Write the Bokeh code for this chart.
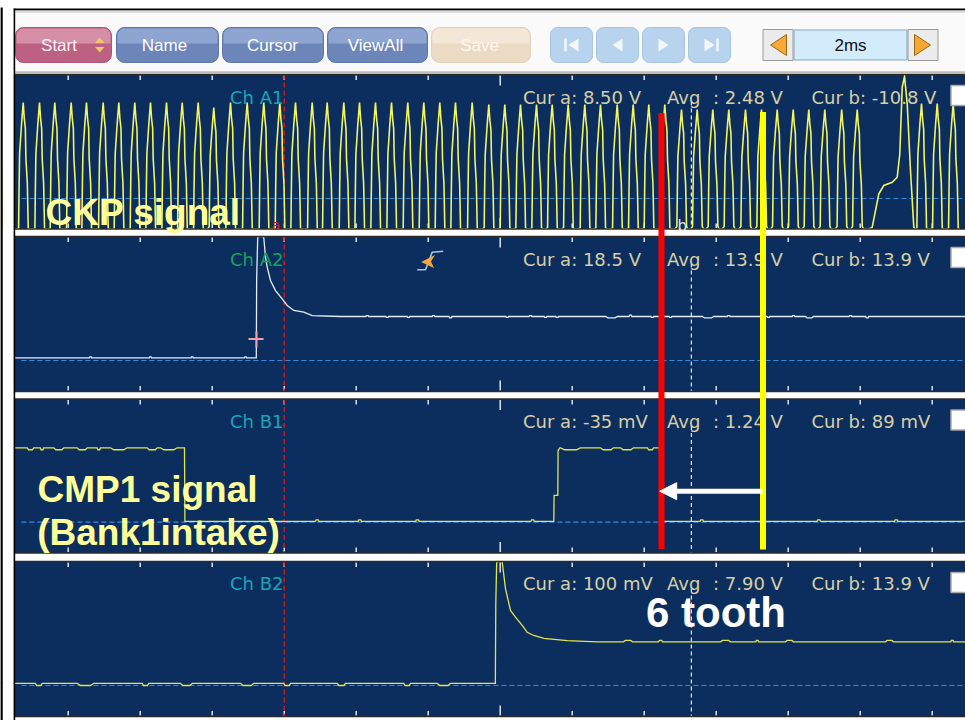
import numpy as np
from bokeh.plotting import figure
from bokeh.models import Range1d, Arrow, NormalHead
from bokeh.core.properties import value
from bokeh.embed import file_html
from bokeh.resources import INLINE

# ============================ DATA ============================
TIMEBASE_LABEL = "2ms"
BUTTON_LABELS = ["Start", "Name", "Cursor", "ViewAll", "Save"]
CHANNEL_NAMES = ["Ch A1", "Ch A2", "Ch B1", "Ch B2"]
CHANNEL_KEYS = ["A1", "A2", "B1", "B2"]
CUR_A_TEXT = ["8.50 V", "18.5 V", "-35 mV", "100 mV"]
AVG_TEXT = ["2.48 V", "13.9 V", "1.24 V", "7.90 V"]
CUR_B_TEXT = ["-10.8 V", "13.9 V", "89 mV", "13.9 V"]
DIV_TICKS_MS = [-12, -10, -8, -6, -4, -2, 0, 2, 4, 6, 8, 10, 12]
CURSOR_A_MS = -6.0
CURSOR_B_MS = 5.31
RED_MARK_MS = 4.48
YELLOW_MARK_MS = 7.30
ARROW_TIP_MS = 4.43
LABEL_CKP = "CKP signal"
LABEL_CMP = ["CMP1 signal", "(Bank1intake)"]
LABEL_TEETH = "6 tooth"

# Ch A1 - crankshaft sensor: tooth peak times (ms) and peak voltages (V)
CKP_PEAK_MS = [-13.694, -13.25, -12.797, -12.372, -11.917, -11.492, -11.028, -10.594, -10.15, -9.714,
               -9.269, -8.833, -8.389, -7.956, -7.492, -7.028, -6.567, -6.122, -5.686, -5.222,
               -4.806, -4.344, -3.908, -3.464, -3.019, -2.567, -2.122, -1.678, -1.242, -0.778,
               -0.317, 0.128, 0.564, 1.008, 1.444, 1.889, 2.35, 2.786, 3.25, 3.694,
               4.128, 4.572, 5.036, 5.472, 5.906, 6.35, 6.814, 7.258, 7.694, 8.139,
               8.572, 9.017, 9.486, 9.917, 11.703, 12.139, 12.583]
CKP_PEAK_V = [9.6, 9.6, 9.6, 9.6, 9.6, 9.6, 9.6, 9.6, 9.6, 9.6,
              9.6, 9.6, 9.6, 9.1, 9.6, 9.6, 9.6, 9.6, 9.6, 9.6,
              9.6, 9.6, 9.6, 9.6, 9.6, 9.6, 9.6, 9.6, 9.6, 9.6,
              9.4, 9.4, 9.4, 9.4, 9.4, 9.4, 9.4, 9.4, 9.4, 9.4,
              9.4, 9.4, 8.9, 8.9, 8.9, 8.9, 8.9, 8.9, 8.9, 8.9,
              8.9, 8.9, 8.9, 8.9, 9.5, 9.5, 9.5]
# one tooth (offset from its peak, ms / V)
TOOTH_DT_MS = [-0.175, -0.128, -0.115, -0.1, -0.045, 0.0, 0.03, 0.06, 0.075, 0.115, 0.14, 0.175]
TOOTH_V = [-12.0, -3.0, 1.0, 4.5, 7.5, 9.6, 8.0, 7.0, 4.0, 1.5, -3.0, -12.0]
TOOTH_REF_V = 9.6
# missing-tooth gap + reference tooth
CKP_GAP_MS = [10.231, 10.333, 10.517, 10.656, 10.889, 11.028, 11.1, 11.167, 11.231, 11.306, 11.397, 11.489, 11.536]
CKP_GAP_V = [-12.0, -2.9, 0.47, 1.3, 1.63, 2.13, 4.47, 11.13, 12.2, 9.47, 2.8, -2.87, -12.0]

# Ch A2 (white trace)
A2_MS = [-13.9, -6.775, -6.765, -6.735, -6.59, -6.567, -6.519, -6.472, -6.381, -6.242,
         -6.056, -5.917, -5.733, -5.456, -5.222, -4.436, 13.0]
A2_V = [0.85, 0.85, 25.9, 45.0, 45.0, 38.8, 32.6, 29.5, 25.3, 22.1,
        19.5, 17.4, 15.8, 15.3, 14.2, 13.9, 13.9]
A2_BLIPS = [(-11.378, 0.06, 0.3), (-9.714, 0.06, 0.3), (-8.556, 0.06, 0.3), (-7.075, 0.06, 0.3),
            (-3.694, 0.08, 0.3), (-3.139, 0.08, -0.3), (-2.547, 0.08, -0.3), (-1.853, 0.08, 0.3),
            (-1.381, 0.08, -0.45), (0.194, 0.08, -0.3), (0.842, 0.08, 0.3), (1.258, 0.08, -0.3),
            (1.583, 0.08, -0.3), (3.092, 0.33, -0.45), (3.619, 0.08, 0.45), (4.222, 0.08, -0.3),
            (4.731, 0.08, -0.3), (5.772, 0.32, -0.45), (6.35, 0.08, 0.3), (7.453, 0.08, -0.3),
            (8.147, 0.08, 0.3), (8.59, 0.22, -0.45), (9.731, 0.08, 0.3), (10.194, 0.08, -0.45)]

# Ch B1 - camshaft sensor (yellow)
B1_MS = [-13.9, -8.77, -8.758, 1.489, 1.497, 1.6, 1.608, 1.656, 4.425, 4.453, 13.0]
B1_V = [5.0, 5.0, 0.05, 0.05, 1.8, 1.8, 4.8, 5.0, 5.0, 0.05, 0.05]
B1_BLIPS = [(-13.047, 0.18, -0.13), (-12.728, 0.09, -0.13), (-12.261, 0.28, -0.13), (-11.611, 0.28, -0.13),
            (-11.15, 0.09, -0.13), (-10.594, 0.46, -0.13), (-9.667, 0.28, -0.13), (-9.206, 0.46, -0.13),
            (1.953, 0.55, -0.13), (2.967, 0.36, -0.13), (3.522, 0.36, -0.13), (4.175, 0.17, -0.13),
            (-5.083, 0.1, 0.1), (-3.9, 0.1, 0.1), (-2.3, 0.1, 0.1), (0.9, 0.1, 0.1),
            (5.6, 0.1, 0.1), (8.85, 0.1, 0.1), (11.0, 0.1, 0.1)]

# Ch B2 (yellow)
B2_MS = [-13.9, -0.135, -0.122, -0.097, 0.036, 0.056, 0.147, 0.286, 0.425, 0.611,
         0.75, 0.933, 1.211, 1.861, 2.694, 13.0]
B2_V = [0.7, 0.7, 26.3, 45.0, 45.0, 39.0, 30.6, 23.7, 21.6, 19.0,
        16.8, 15.8, 14.9, 14.2, 13.8, 13.8]
B2_BLIPS = [(-12.817, 0.19, -0.7), (-11.519, 0.46, -0.7), (-9.853, 0.18, -0.7), (-8.718, 0.33, -0.7),
            (-7.029, 0.37, -0.7), (-5.918, 0.19, -0.7), (-4.412, 0.23, -0.7), (-2.585, 0.19, -0.7),
            (-1.565, 0.37, -0.7), (3.55, 0.25, 0.45), (4.453, 0.11, 0.45), (6.258, 0.28, 0.45),
            (7.139, 0.08, 0.45), (8.036, 0.22, 0.45), (10.814, 0.22, 0.45), (12.556, 0.08, 0.45)]

# ============================ LAYOUT (page pixels) ============================
PAGE_X0, PAGE_X1, PAGE_Y0, PAGE_Y1 = 0, 965, 0, 720
X_ZERO_PX, PX_PER_MS = 499.7, 36.0
PANEL_TOP = [74.0, 236.0, 398.5, 561.0]
PANEL_BOT = [228.5, 391.0, 552.5, 716.0]
BASE_Y = [198.0, 360.0, 521.7, 685.0]
PX_PER_V = [10.0, 3.165, 14.88, 3.165]
NAVY = "#0b2e5f"
TRACE_COLORS = ["#f4f45c", "#e6ecf5", "#e4e44e", "#e4e44e"]
TRACE_WIDTHS = [1.6, 1.3, 1.3, 1.3]
CH_COLORS = ["#17a6b6", "#13a460", "#17a6b6", "#17a6b6"]
INFO_COLOR = "#d6cfa6"
INFO_Y = [97.0, 259.0, 421.0, 583.0]
UI_FONT = value("DejaVu Sans")
BTN_FONT = value("Liberation Sans")
XR = 970  # right end of strips (beyond the page edge)

t0 = (PAGE_X0 - X_ZERO_PX) / PX_PER_MS
t1 = (PAGE_X1 - X_ZERO_PX) / PX_PER_MS

p = figure(width=PAGE_X1 - PAGE_X0, height=PAGE_Y1 - PAGE_Y0, title=None,
           x_range=Range1d(t0, t1), y_range=Range1d(PAGE_Y1, PAGE_Y0),
           x_axis_location=None, y_axis_location=None, toolbar_location=None,
           output_backend="svg", min_border=0, outline_line_color=None,
           background_fill_color="white", border_fill_color="white")
p.xgrid.visible = False
p.ygrid.visible = False
p.extra_x_ranges = {"px": Range1d(PAGE_X0, PAGE_X1)}
ranges = {}
for key, b, s in zip(CHANNEL_KEYS, BASE_Y, PX_PER_V):
    ranges[key] = Range1d(-(PAGE_Y1 - b) / s, (b - PAGE_Y0) / s)
p.extra_y_ranges = ranges

# ---------------- toolbar strip ----------------
p.quad(left=[14.5], right=[XR], top=[9.5], bottom=[73], fill_color="#fafafa", line_color=None, x_range_name="px")
p.quad(left=[14.5], right=[XR], top=[9.5], bottom=[12.5], fill_color="#dedede", line_color=None, x_range_name="px")
p.segment(x0=[14.5], y0=[71.8], x1=[XR], y1=[71.8], line_color="#bdbdbd", line_width=2, x_range_name="px")

BTN_L = [15, 116, 222, 327, 431]
BTN_R = [111, 218, 323, 427, 530]
BTN_FILL = ["#bd6182", "#6d86ba", "#6d86ba", "#6d86ba", "#ebdac4"]
BTN_TOP = ["#d58ea6", "#8ea5d1", "#8ea5d1", "#8ea5d1", "#f3e8d8"]
BTN_LINE = ["#a8577a", "#5d76a8", "#5d76a8", "#5d76a8", "#e2d0b8"]
BTN_TEXT_X = [58.5, 164, 272, 375, 479]
BTN_TEXT_C = ["#fff3f6", "#ffffff", "#ffffff", "#ffffff", "#fcf8f2"]
p.quad(left=BTN_L, right=BTN_R, top=27, bottom=62, fill_color=BTN_FILL, line_color=BTN_LINE,
       line_width=1, border_radius=8, x_range_name="px")
try:
    p.quad(left=[l + 1 for l in BTN_L], right=[r - 1 for r in BTN_R], top=28, bottom=43,
           fill_color=BTN_TOP, line_color=None, border_radius=(7, 7, 0, 0), x_range_name="px")
except Exception:
    pass
p.text(x=BTN_TEXT_X, y=[44.5] * 5, text=BUTTON_LABELS, text_color=BTN_TEXT_C, text_font=BTN_FONT,
       text_font_size="17px", text_align="center", text_baseline="middle", x_range_name="px")
# start spinner arrows
p.patches(xs=[[94.5, 104, 99.2], [94.5, 104, 99.2]], ys=[[42.5, 42.5, 37], [46.5, 46.5, 52]],
          fill_color="#f1c66e", line_color=None, x_range_name="px")

# navigation buttons
NAV_L = [550, 596, 642, 688]
p.quad(left=NAV_L, right=[l + 42 for l in NAV_L], top=27, bottom=62, fill_color="#b8d3ed",
       line_color="#a6c3e0", border_radius=7, x_range_name="px")
ic = "#f3f7fc"
p.patches(xs=[[568, 578, 578], [612, 622, 622], [658, 668, 658], [704, 714, 704]],
          ys=[[44.5, 38, 51], [44.5, 38, 51], [38, 44.5, 51], [38, 44.5, 51]],
          fill_color=ic, line_color=None, x_range_name="px")
p.segment(x0=[565, 717], y0=[38, 38], x1=[565, 717], y1=[51, 51], line_color=ic, line_width=2.5,
          x_range_name="px")

# timebase selector
p.quad(left=[762.5, 907.5], right=[792.5, 937.5], top=29, bottom=60, fill_color="#ececec",
       line_color="#9a9a9a", x_range_name="px")
p.quad(left=[793.5], right=[906.5], top=29.5, bottom=59.5, fill_color="#d2ecfb",
       line_color="#8ca2b4", x_range_name="px")
p.patches(xs=[[770, 786, 786], [930, 914, 914]], ys=[[44.5, 34, 55], [44.5, 34, 55]],
          fill_color="#f8a935", line_color="#9c6518", line_width=1, x_range_name="px")
p.text(x=[850], y=[44.5], text=[TIMEBASE_LABEL], text_color="#111111", text_font=BTN_FONT,
       text_font_size="17px", text_align="center", text_baseline="middle", x_range_name="px")

# top frame line
p.segment(x0=[13], y0=[8.9], x1=[XR], y1=[8.9], line_color="black", line_width=1.6, x_range_name="px")

# ---------------- panels ----------------
p.quad(left=14.5, right=XR, top=PANEL_TOP, bottom=PANEL_BOT, fill_color=NAVY, line_color=None,
       x_range_name="px")

tick_x0, tick_y0, tick_y1 = [], [], []
for top, bot in zip(PANEL_TOP, PANEL_BOT):
    for t in DIV_TICKS_MS:
        ln = 10 if t == 0 else 4.5
        tick_x0 += [t, t]
        tick_y0 += [top + 1, bot - 1]
        tick_y1 += [top + 1 + ln, bot - 1 - ln]
p.segment(x0=tick_x0, y0=tick_y0, x1=tick_x0, y1=tick_y1, line_color="#dfe4ee", line_width=1.5)

for key in CHANNEL_KEYS:
    p.line([-13.3, t1 + 1], [0, 0], y_range_name=key, line_color="#3b8ae0", line_width=1.2, line_dash="5 3")

p.segment(x0=[CURSOR_A_MS] * 4, y0=PANEL_TOP, x1=[CURSOR_A_MS] * 4, y1=PANEL_BOT,
          line_color="#e4161c", line_width=1.3, line_dash="5 3")
p.segment(x0=[CURSOR_B_MS] * 4, y0=[t + 27 for t in PANEL_TOP], x1=[CURSOR_B_MS] * 4, y1=PANEL_BOT,
          line_color="#e6e6e6", line_width=1.2, line_dash="4 3")


def add_blips(ts, vs, blips):
    bt, bv = np.array(ts, float), np.array(vs, float)
    pts = list(zip(ts, vs))
    for tc, w, dv in blips:
        b = float(np.interp(tc, bt, bv))
        a0, a1 = tc - w / 2, tc + w / 2
        pts += [(a0, b), (a0 + w * 0.2, b + dv), (a1 - w * 0.2, b + dv), (a1, b)]
    pts.sort()
    return np.array([q[0] for q in pts]), np.array([q[1] for q in pts])


def build_ckp():
    pts = []
    for tp, vp in zip(CKP_PEAK_MS, CKP_PEAK_V):
        k = vp / TOOTH_REF_V
        for dt, dv in zip(TOOTH_DT_MS, TOOTH_V):
            pts.append((tp + dt, dv * k))
    pts += list(zip(CKP_GAP_MS, CKP_GAP_V))
    pts.sort()
    return np.array([q[0] for q in pts]), np.array([q[1] for q in pts])


series = [build_ckp(), add_blips(A2_MS, A2_V, A2_BLIPS), add_blips(B1_MS, B1_V, B1_BLIPS),
          add_blips(B2_MS, B2_V, B2_BLIPS)]
for i, (key, (ts, vs)) in enumerate(zip(CHANNEL_KEYS, series)):
    vmax = (BASE_Y[i] - PANEL_TOP[i]) / PX_PER_V[i]
    vmin = (BASE_Y[i] - PANEL_BOT[i]) / PX_PER_V[i]
    p.line(ts, np.clip(vs, vmin, vmax), y_range_name=key, line_color=TRACE_COLORS[i],
           line_width=TRACE_WIDTHS[i], line_join="miter")

# panel borders
p.segment(x0=[14.5] * 8, y0=PANEL_TOP + PANEL_BOT, x1=[XR] * 8, y1=PANEL_TOP + PANEL_BOT,
          line_color="#2b2b2b", line_width=1.3, x_range_name="px")
# left white margin and window frame lines
p.quad(left=[2.5], right=[13], top=[0], bottom=[720], fill_color="white", line_color=None, x_range_name="px")
p.segment(x0=[13.9, 1.0], y0=[8, 7], x1=[13.9, 1.0], y1=[720, 720], line_color="black",
          line_width=[1.6, 2.5], x_range_name="px")

# info texts
p.text(x=[229.5] * 4, y=INFO_Y, text=CHANNEL_NAMES, text_color=CH_COLORS, text_font=UI_FONT,
       text_font_size="18px", text_baseline="alphabetic", x_range_name="px")
p.text(x=[522.5] * 4, y=INFO_Y, text=["Cur a: " + s for s in CUR_A_TEXT], text_color=INFO_COLOR,
       text_font=UI_FONT, text_font_size="18px", text_baseline="alphabetic", x_range_name="px")
p.text(x=[666.5] * 4, y=INFO_Y, text=["Avg"] * 4, text_color=INFO_COLOR,
       text_font=UI_FONT, text_font_size="18px", text_baseline="alphabetic", x_range_name="px")
p.text(x=[712.5] * 4, y=INFO_Y, text=[": " + s for s in AVG_TEXT], text_color=INFO_COLOR,
       text_font=UI_FONT, text_font_size="18px", text_baseline="alphabetic", x_range_name="px")
p.text(x=[811] * 4, y=INFO_Y, text=["Cur b: " + s for s in CUR_B_TEXT], text_color=INFO_COLOR,
       text_font=UI_FONT, text_font_size="18px", text_baseline="alphabetic", x_range_name="px")

# checkboxes at right
p.quad(left=950.5, right=XR, top=[t + 11 for t in PANEL_TOP], bottom=[t + 31 for t in PANEL_TOP],
       fill_color="white", line_color="#a8a8a8", line_width=1.5, x_range_name="px")

# cursor labels a / b
p.text(x=[271], y=[224], text=["a"], text_color="#e4161c", text_font=UI_FONT, text_font_size="14px",
       text_baseline="alphabetic", x_range_name="px")
p.text(x=[677], y=[225], text=["b"], text_color="#e6e6e6", text_font=UI_FONT, text_font_size="15px",
       text_baseline="alphabetic", x_range_name="px")

# trigger marker (pink cross) and trigger icon in Ch A2
p.segment(x0=[248, 256], y0=[338.5, 331], x1=[263, 256], y1=[338.5, 347], line_color="#f2a2aa",
          line_width=2, x_range_name="px")
p.line([416.7, 425, 431.7, 442.7], [269.3, 269.3, 251.7, 250.7], line_color="#a9c1de", line_width=1.6,
       x_range_name="px")
p.patch([420.5, 434.5, 430.5, 433.5], [261.5, 254.5, 261.0, 267.5], fill_color="#f5a442", line_color=None,
        x_range_name="px")

# ---------------- presentation overlays ----------------
p.segment(x0=[RED_MARK_MS], y0=[112.5], x1=[RED_MARK_MS], y1=[548.5], line_color="#ff0000", line_width=6)
p.segment(x0=[YELLOW_MARK_MS], y0=[111.5], x1=[YELLOW_MARK_MS], y1=[549], line_color="#ffff00", line_width=6)

BIG_FONT = value("Liberation Sans")
p.text(x=[45], y=[211.7], text=[LABEL_CKP], text_color="#ffff99", text_font=BIG_FONT,
       text_font_style="bold", text_font_size="37px", text_baseline="alphabetic", x_range_name="px")
p.text(x=[37, 36.7], y=[489, 531.7], text=LABEL_CMP, text_color="#ffff99", text_font=BIG_FONT,
       text_font_style="bold", text_font_size="37px", text_baseline="alphabetic", x_range_name="px")
p.text(x=[645.5], y=[612.3], text=[LABEL_TEETH], text_color="#ffffff", text_font=BIG_FONT,
       text_font_style="bold", text_font_size="42px", text_baseline="alphabetic", x_range_name="px")

p.add_layout(Arrow(x_start=(762.0 - X_ZERO_PX) / PX_PER_MS, y_start=490.7, x_end=ARROW_TIP_MS, y_end=490.7,
                   line_color="white", line_width=5,
                   end=NormalHead(size=17, fill_color="white", line_color="white", line_width=1)))

open("out.html", "w").write(file_html(p, INLINE))
